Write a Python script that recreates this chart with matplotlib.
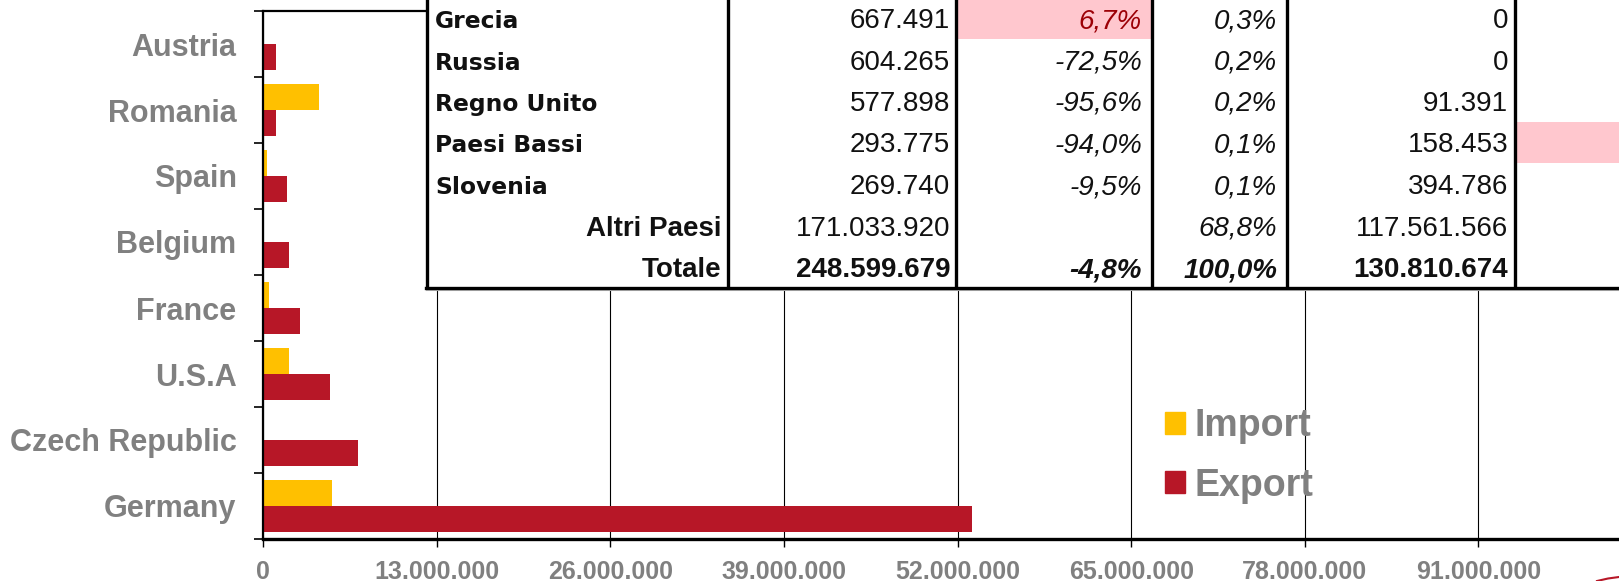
import matplotlib
matplotlib.use("Agg")
import matplotlib.pyplot as plt
from matplotlib.patches import Patch, Rectangle
from matplotlib.ticker import FuncFormatter, FixedLocator

# ---- chart data ----
countries = ["Austria", "Romania", "Spain", "Belgium", "France", "U.S.A",
             "Czech Republic", "Germany"]
imports = [0, 4_200_000, 300_000, 0, 450_000, 1_950_000, 0, 5_200_000]
exports = [970_000, 1_000_000, 1_800_000, 1_950_000, 2_750_000, 5_000_000,
           7_100_000, 53_100_000]
x_ticks = [0, 13e6, 26e6, 39e6, 52e6, 65e6, 78e6, 91e6]

# ---- overlaid table (cropped at the top of the slide) ----
tab_rows = ["Grecia", "Russia", "Regno Unito", "Paesi Bassi", "Slovenia",
            "Altri Paesi", "Totale"]
tab_value = ["667.491", "604.265", "577.898", "293.775", "269.740",
             "171.033.920", "248.599.679"]
tab_var = ["6,7%", "-72,5%", "-95,6%", "-94,0%", "-9,5%", "", "-4,8%"]
tab_share = ["0,3%", "0,2%", "0,2%", "0,1%", "0,1%", "68,8%", "100,0%"]
tab_value2 = ["0", "0", "91.391", "158.453", "394.786",
              "117.561.566", "130.810.674"]

C_IMP = "#FFC000"
C_EXP = "#B71727"
GREY = "#808080"
SANS = "Liberation Sans"

W, H = 1619, 581
fig = plt.figure(figsize=(W / 100, H / 100), dpi=100)

# main bar axes; right edge runs past the slide crop
ax = fig.add_axes([263 / W, 42 / H, 1389 / W, 528 / H])
ypos = list(range(len(countries)))
ax.barh([y - 0.2 for y in ypos], imports, height=0.4, color=C_IMP, zorder=2)
ax.barh([y + 0.2 for y in ypos], exports, height=0.4, color=C_EXP, zorder=2)

ax.set_xlim(0, 104e6)
ax.set_ylim(7.5, -0.5)
ax.xaxis.set_major_locator(FixedLocator(x_ticks))
ax.xaxis.set_major_formatter(FuncFormatter(lambda v, p: f"{int(v):,}".replace(",", ".")))
ax.grid(axis="x", color="black", lw=0.8, zorder=0)
ax.set_axisbelow(True)

# y: ticks on category boundaries, labels at centres
ax.yaxis.set_major_locator(FixedLocator([y + 0.5 for y in range(-1, len(countries))]))
ax.yaxis.set_major_formatter(FuncFormatter(lambda v, p: ""))
ax.yaxis.set_minor_locator(FixedLocator(ypos))
ax.set_yticklabels(countries, minor=True)
ax.tick_params(axis="y", which="major", length=6.5, width=1.2, direction="out")
ax.tick_params(axis="y", which="minor", length=0, pad=19)
ax.tick_params(axis="x", length=6, width=1, pad=9)
for lab in ax.get_yticklabels(minor=True):
    lab.set(fontfamily=SANS, fontweight="bold", fontsize=22, color=GREY)
for lab in ax.get_xticklabels():
    lab.set(fontfamily=SANS, fontweight="bold", fontsize=18, color=GREY)

ax.spines["right"].set_visible(False)
ax.spines["left"].set_linewidth(1.6)
ax.spines["top"].set_linewidth(1.6)
ax.spines["bottom"].set_linewidth(2.4)

# ---- table layer in pixel coordinates ----
tab = fig.add_axes([0, 0, 1, 1], zorder=3)
tab.set_xlim(0, W)
tab.set_ylim(H, 0)
tab.axis("off")

col_edges = [427, 728, 956, 1152, 1287, 1515]
row_top, row_h = -2.75, 41.5
tab_bottom = row_top + row_h * len(tab_rows)

tab.add_patch(Rectangle((col_edges[0], -10), W + 50 - col_edges[0], tab_bottom + 10,
                        facecolor="white", edgecolor="none"))
# highlighted (conditional formatting) cells
tab.add_patch(Rectangle((col_edges[2], row_top), col_edges[3] - col_edges[2], row_h,
                        facecolor="#FFC7CE", edgecolor="none"))
tab.add_patch(Rectangle((col_edges[5] + 2, row_top + 3 * row_h), 200, row_h,
                        facecolor="#FFC7CE", edgecolor="none"))

for xe in col_edges:
    tab.plot([xe, xe], [-10, tab_bottom], color="black", lw=2.4, solid_capstyle="butt")
tab.plot([col_edges[0], W + 10], [tab_bottom + 2.5, tab_bottom + 2.5], color="#BBBBBB", lw=1.5)
tab.plot([col_edges[0] - 1, W + 10], [tab_bottom, tab_bottom], color="black", lw=2.4)

INK = "#111111"
for i, name in enumerate(tab_rows):
    base = row_top + row_h * i + row_h / 2 + 10
    total = name == "Totale"
    if i < 5:
        tab.text(435, base, name, fontfamily="DejaVu Sans", fontweight="bold",
                 fontsize=16.8, color=INK, va="baseline", ha="left")
    else:
        tab.text(721, base, name, fontfamily=SANS, fontweight="bold",
                 fontsize=20, color=INK, va="baseline", ha="right")
    w = "bold" if total else "normal"
    tab.text(950, base, tab_value[i], fontfamily=SANS, fontweight=w,
             fontsize=20, color=INK, va="baseline", ha="right")
    tab.text(1142, base, tab_var[i], fontfamily=SANS, fontweight=w, style="italic",
             fontsize=20, color="#9C0006" if i == 0 else INK, va="baseline", ha="right")
    tab.text(1277, base, tab_share[i], fontfamily=SANS, fontweight=w, style="italic",
             fontsize=20, color=INK, va="baseline", ha="right")
    tab.text(1508, base, tab_value2[i], fontfamily=SANS, fontweight=w,
             fontsize=20, color=INK, va="baseline", ha="right")

# small red swoosh of the slide logo, bottom-right corner
tab.plot([1597, 1608, 1619], [581, 578.5, 577], color=C_EXP, lw=1.5)

handles = [Patch(color=C_IMP, label="Import"), Patch(color=C_EXP, label="Export")]
leg = fig.legend(handles=handles, loc="upper left",
                 bbox_to_anchor=(1165 / W, 1 - 408 / H), frameon=False,
                 prop={"family": SANS, "weight": "bold", "size": 27},
                 handlelength=0.53, handleheight=0.53, handletextpad=0.25,
                 labelspacing=0.63, borderpad=0, borderaxespad=0)
for t in leg.get_texts():
    t.set_color(GREY)

fig.savefig("out.png", dpi=100)
